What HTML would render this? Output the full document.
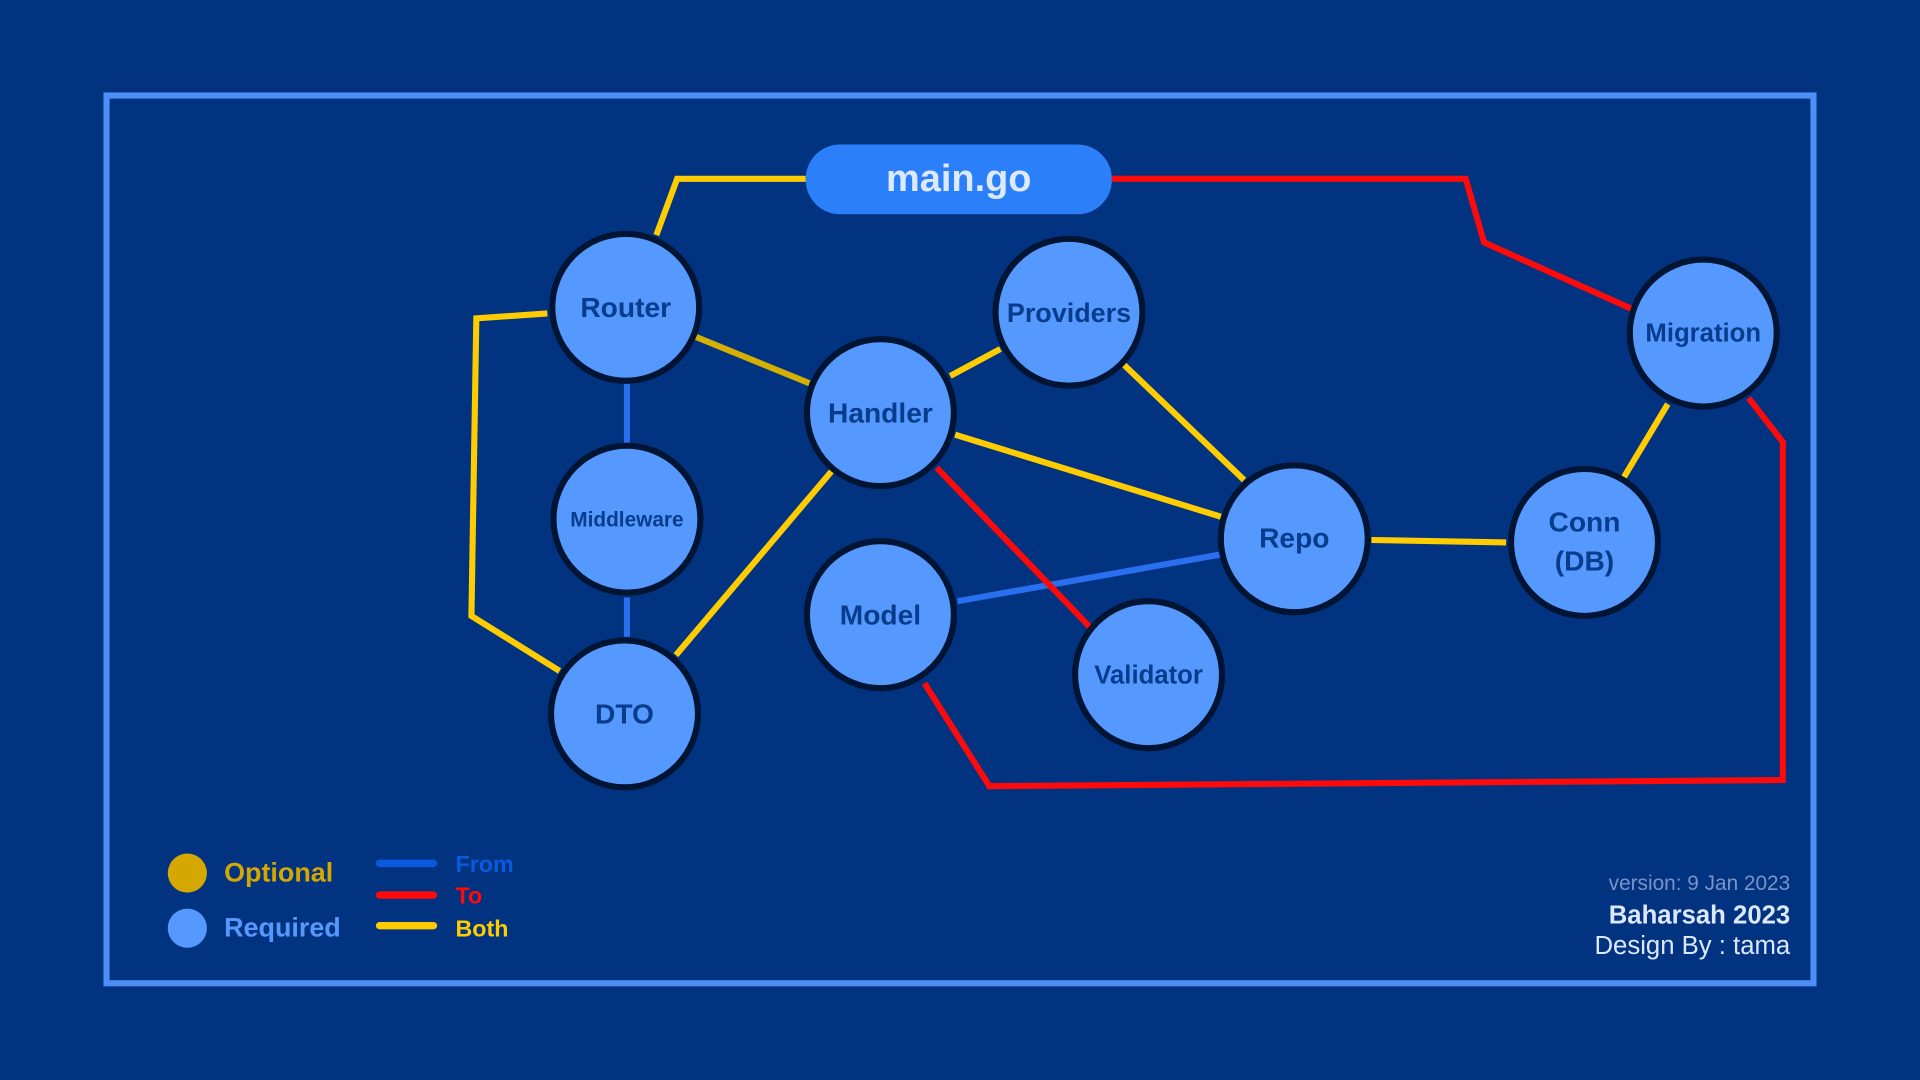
<!DOCTYPE html>
<html><head><meta charset="utf-8"><style>
html,body{margin:0;padding:0;background:#023380;}
svg{display:block;}
text{font-family:"Liberation Sans","DejaVu Sans",sans-serif;}
</style></head><body>
<svg width="1920" height="1080" viewBox="0 0 1568 882" xmlns="http://www.w3.org/2000/svg">
<rect width="1568" height="882" fill="#023380"/>
<rect x="87" y="78" width="1394" height="725" fill="none" stroke="#4d8ff5" stroke-width="5"/>
<g fill="none" stroke-width="5" stroke-linejoin="miter">
<polyline points="658,146 553,146 536,192" stroke="#ffcc00"/>
<polyline points="447,256 389,260 385,503 457,548" stroke="#ffcc00"/>
<line x1="568" y1="275" x2="661" y2="313" stroke="#d6b000"/>
<line x1="776" y1="307" x2="817" y2="285" stroke="#ffcc00"/>
<line x1="918" y1="298" x2="1016" y2="392" stroke="#ffcc00"/>
<line x1="780" y1="355" x2="997" y2="422" stroke="#ffcc00"/>
<line x1="679" y1="385" x2="552" y2="535" stroke="#ffcc00"/>
<line x1="1120" y1="441" x2="1230" y2="443" stroke="#ffcc00"/>
<line x1="1326" y1="390" x2="1362" y2="330" stroke="#ffcc00"/>
<line x1="512" y1="313" x2="512" y2="362" stroke="#2a6ff0"/>
<line x1="512" y1="488" x2="512" y2="520" stroke="#2a6ff0"/>
<line x1="782" y1="491" x2="996" y2="453" stroke="#2a6ff0"/>
<polyline points="908,146 1197,146 1212,198 1332,252" stroke="#ff0a0a"/>
<line x1="765" y1="382" x2="890" y2="512" stroke="#ff0a0a"/>
<polyline points="1428,325 1456,361 1456,637 808,642 755,558" stroke="#ff0a0a"/>
</g>
<rect x="658" y="118" width="250" height="57" rx="28" fill="#2b7ff8"/>
<text x="783" y="156" text-anchor="middle" font-size="31" font-weight="bold" fill="#dde9ff">main.go</text>
<g fill="#5599ff" stroke="#001433" stroke-width="5">
<circle cx="511" cy="251" r="60"/><circle cx="873" cy="255" r="60"/><circle cx="719" cy="337" r="60"/>
<circle cx="512" cy="424" r="60"/><circle cx="1391" cy="272" r="60"/><circle cx="1057" cy="440" r="60"/>
<circle cx="1294" cy="443" r="60"/><circle cx="719" cy="502" r="60"/><circle cx="938" cy="551" r="60"/>
<circle cx="510" cy="583" r="60"/>
</g>
<g fill="#083c8c" font-weight="bold" text-anchor="middle" font-size="23">
<text x="511" y="259">Router</text>
<text x="873" y="263" font-size="22">Providers</text>
<text x="719" y="345">Handler</text>
<text x="512" y="430" font-size="17">Middleware</text>
<text x="1391" y="279" font-size="21">Migration</text>
<text x="1057" y="447">Repo</text>
<text x="1294" y="434">Conn</text>
<text x="1294" y="466">(DB)</text>
<text x="719" y="510">Model</text>
<text x="938" y="558" font-size="21">Validator</text>
<text x="510" y="591">DTO</text>
</g>
<circle cx="153" cy="713" r="16" fill="#d4a800"/>
<circle cx="153" cy="758" r="16" fill="#5599ff"/>
<text x="183" y="720" font-size="22" font-weight="bold" fill="#d4a800">Optional</text>
<text x="183" y="765" font-size="22" font-weight="bold" fill="#5599ff">Required</text>
<g stroke-width="6" stroke-linecap="round">
<line x1="310" y1="705" x2="354" y2="705" stroke="#0a5ae0"/>
<line x1="310" y1="731" x2="354" y2="731" stroke="#ff0a0a"/>
<line x1="310" y1="756" x2="354" y2="756" stroke="#ffcc00"/>
</g>
<g font-size="19" font-weight="bold">
<text x="372" y="712" fill="#0a5ae0">From</text>
<text x="372" y="738" fill="#ff0a0a">To</text>
<text x="372" y="765" fill="#ffcc00">Both</text>
</g>
<g text-anchor="end">
<text x="1462" y="727" font-size="17" fill="#7894c8">version: 9 Jan 2023</text>
<text x="1462" y="754" font-size="21" font-weight="bold" fill="#dce8ff">Baharsah 2023</text>
<text x="1462" y="779" font-size="21" fill="#dce8ff">Design By : tama</text>
</g>
</svg>
</body></html>
